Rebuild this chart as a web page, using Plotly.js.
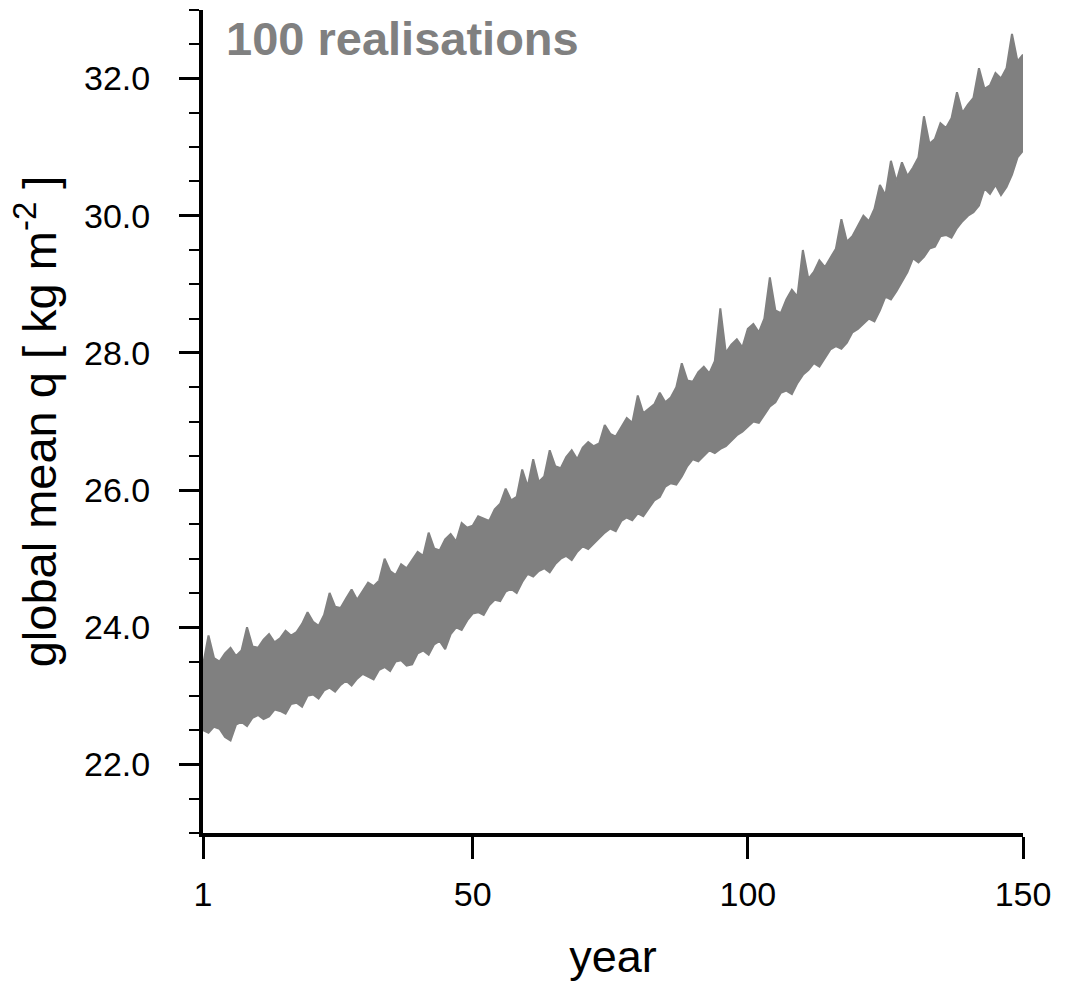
<!DOCTYPE html>
<html><head><meta charset="utf-8">
<script src="https://cdn.plot.ly/plotly-3.0.1.min.js"></script>
<style>html,body{margin:0;padding:0;background:#fff;} #chart{width:1067px;height:984px;}</style>
</head><body><div id="chart"></div>
<script>
// Years of the simulation (x positions)
const firstYear = 1;
const lastYear = 150;
const years = [];
for (let y = firstYear; y <= lastYear; y++) years.push(y);

// Upper edge of the 100-realisation spread (max over realisations)
const upperEnvelope = [
  23.45, 23.88, 23.55, 23.50, 23.62, 23.70, 23.58, 23.66, 24.00, 23.72,
  23.70, 23.82, 23.90, 23.78, 23.84, 23.95, 23.88, 23.93, 24.05, 24.22,
  24.08, 24.02, 24.18, 24.50, 24.30, 24.28, 24.42, 24.55, 24.40, 24.52,
  24.65, 24.60, 24.68, 25.00, 24.82, 24.76, 24.92, 24.86, 24.98, 25.10,
  25.04, 25.38, 25.15, 25.12, 25.28, 25.36, 25.25, 25.52, 25.45, 25.48,
  25.62, 25.58, 25.55, 25.72, 25.80, 26.02, 25.85, 25.90, 26.30, 26.05,
  26.45, 26.12, 26.20, 26.58, 26.35, 26.32, 26.48, 26.58, 26.45, 26.62,
  26.70, 26.64, 26.68, 26.95, 26.82, 26.78, 26.92, 27.05, 26.98, 27.38,
  27.12, 27.18, 27.25, 27.42, 27.28, 27.35, 27.50, 27.85, 27.60, 27.58,
  27.72, 27.80, 27.70, 27.88, 28.65, 28.00, 28.12, 28.20, 28.08, 28.35,
  28.42, 28.30, 28.50, 29.10, 28.62, 28.58, 28.78, 28.92, 28.82, 29.50,
  29.08, 29.18, 29.35, 29.25, 29.38, 29.52, 29.95, 29.62, 29.70, 29.85,
  30.00, 29.92, 30.10, 30.45, 30.30, 30.80, 30.50, 30.78, 30.58, 30.70,
  30.85, 31.45, 31.05, 31.12, 31.35, 31.28, 31.42, 31.80, 31.50, 31.62,
  31.72, 32.15, 31.85, 31.90, 32.08, 32.00, 32.15, 32.65, 32.25, 32.35
];

// Lower edge of the spread (min over realisations)
const lowerEnvelope = [
  22.50, 22.46, 22.55, 22.52, 22.40, 22.35, 22.58, 22.62, 22.56, 22.68,
  22.72, 22.66, 22.70, 22.80, 22.78, 22.74, 22.88, 22.90, 22.84, 23.00,
  23.02, 22.96, 23.08, 23.12, 23.06, 23.16, 23.22, 23.15, 23.25, 23.32,
  23.28, 23.24, 23.38, 23.42, 23.36, 23.50, 23.52, 23.44, 23.46, 23.62,
  23.66, 23.60, 23.75, 23.80, 23.68, 23.90, 24.00, 23.96, 24.10, 24.20,
  24.22, 24.18, 24.32, 24.40, 24.38, 24.52, 24.56, 24.50, 24.66, 24.78,
  24.74, 24.82, 24.86, 24.80, 24.92, 25.00, 25.04, 24.98, 25.10, 25.18,
  25.14, 25.22, 25.30, 25.38, 25.44, 25.40, 25.55, 25.60, 25.56, 25.66,
  25.62, 25.74, 25.85, 25.90, 26.05, 26.10, 26.08, 26.20, 26.35, 26.45,
  26.42, 26.50, 26.58, 26.54, 26.60, 26.64, 26.72, 26.80, 26.85, 26.92,
  27.00, 26.98, 27.10, 27.22, 27.28, 27.42, 27.45, 27.40, 27.56, 27.68,
  27.75, 27.85, 27.80, 27.92, 28.05, 28.10, 28.06, 28.15, 28.30, 28.35,
  28.42, 28.50, 28.46, 28.62, 28.82, 28.78, 28.90, 29.05, 29.18, 29.38,
  29.32, 29.40, 29.52, 29.55, 29.70, 29.72, 29.68, 29.82, 29.92, 30.00,
  30.05, 30.15, 30.40, 30.32, 30.45, 30.30, 30.42, 30.60, 30.85, 30.95
];

const xTickValues = [1, 50, 100, 150];
const xTickLabels = ['1', '50', '100', '150'];
const yTickValues = [22, 24, 26, 28, 30, 32];
const yTickLabels = ['22.0', '24.0', '26.0', '28.0', '30.0', '32.0'];
const panelLabel = '100 realisations';
const xTitle = 'year';
const yTitle = 'global mean q [ kg m<sup>-2</sup> ]';

const gray = 'rgb(128,128,128)';
const fontFamily = '"Liberation Sans", Arial, Helvetica, sans-serif';

const traces = [
  {
    x: years, y: lowerEnvelope, type: 'scatter', mode: 'lines',
    line: {color: gray, width: 2}, hoverinfo: 'skip', showlegend: false
  },
  {
    x: years, y: upperEnvelope, type: 'scatter', mode: 'lines',
    line: {color: gray, width: 2}, fill: 'tonexty', fillcolor: gray,
    hoverinfo: 'skip', showlegend: false
  }
];

const layout = {
  width: 1067, height: 984,
  margin: {l: 203, r: 44, t: 10, b: 151, pad: 0},
  paper_bgcolor: '#fff', plot_bgcolor: '#fff',
  font: {family: fontFamily, color: '#000'},
  showlegend: false,
  xaxis: {
    range: [1, 150], showgrid: false, zeroline: false,
    showline: true, linecolor: '#000', linewidth: 4,
    ticks: 'outside', ticklen: 22, tickwidth: 3, tickcolor: '#000',
    tickmode: 'array', tickvals: xTickValues, ticktext: xTickLabels,
    tickfont: {family: fontFamily, size: 34, color: '#000'},
    ticklabelstandoff: 6,
    title: {text: xTitle, font: {family: fontFamily, size: 45, color: '#000'}, standoff: 30}
  },
  yaxis: {
    range: [21, 33], showgrid: false, zeroline: false,
    showline: true, linecolor: '#000', linewidth: 4,
    ticks: 'outside', ticklen: 20, tickwidth: 3, tickcolor: '#000',
    tickmode: 'array', tickvals: yTickValues, ticktext: yTickLabels,
    tickfont: {family: fontFamily, size: 34, color: '#000'},
    ticklabelstandoff: 22,
    minor: {tickmode: 'linear', tick0: 21, dtick: 0.5, ticks: 'outside', ticklen: 10, tickwidth: 2, tickcolor: '#000', showgrid: false},
    title: {text: yTitle, font: {family: fontFamily, size: 47, color: '#000'}, standoff: 14}
  },
  annotations: [{
    text: panelLabel, xref: 'paper', yref: 'paper', x: 0.026, y: 1.0,
    xanchor: 'left', yanchor: 'top', showarrow: false,
    font: {family: fontFamily, size: 47, color: gray, weight: 'bold'}
  }]
};

Plotly.newPlot('chart', traces, layout, {staticPlot: true, displayModeBar: false});
</script>
</body></html>
